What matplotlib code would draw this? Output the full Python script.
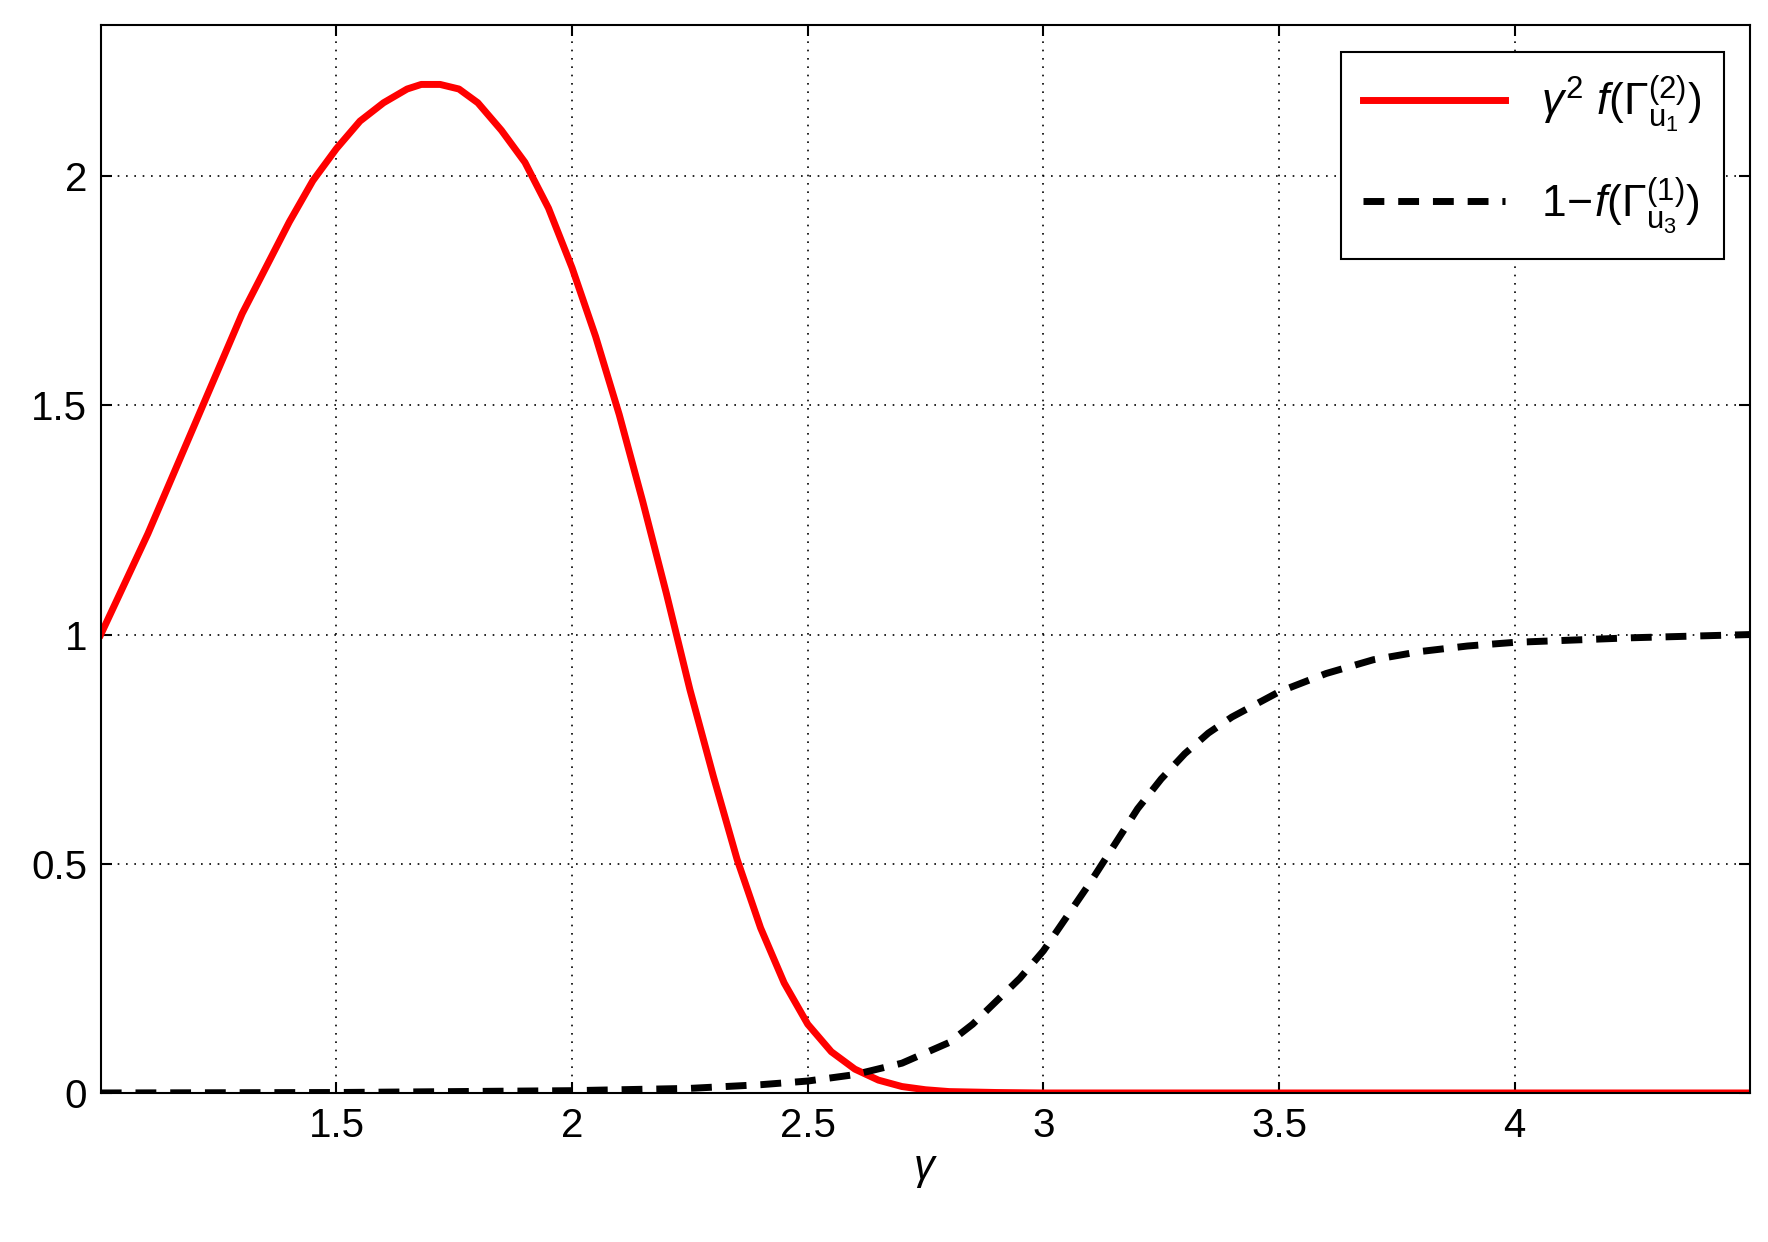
import matplotlib.pyplot as plt

plt.rcParams["font.family"] = ["Liberation Sans", "DejaVu Sans"]
plt.rcParams["mathtext.fontset"] = "custom"
plt.rcParams["mathtext.rm"] = "Liberation Sans"
plt.rcParams["mathtext.it"] = "Liberation Sans:italic"

# values
red_x = [1.0, 1.05, 1.1, 1.15, 1.2, 1.25, 1.3, 1.35, 1.4, 1.45, 1.5, 1.55, 1.6, 1.65,
         1.68, 1.72, 1.76, 1.8, 1.85, 1.9, 1.95, 2.0, 2.05, 2.1, 2.15, 2.2, 2.25,
         2.3, 2.35, 2.4, 2.45, 2.5, 2.55, 2.6, 2.65, 2.7, 2.75, 2.8, 2.9, 3.0, 3.5, 4.0, 4.5]
red_y = [1.0, 1.11, 1.22, 1.34, 1.46, 1.58, 1.7, 1.8, 1.9, 1.99, 2.06, 2.12, 2.16, 2.19,
         2.2, 2.2, 2.19, 2.16, 2.1, 2.03, 1.93, 1.8, 1.65, 1.48, 1.29, 1.09, 0.88,
         0.69, 0.51, 0.36, 0.24, 0.15, 0.09, 0.052, 0.028, 0.014, 0.007, 0.003, 0.001, 0.0, 0.0, 0.0, 0.0]
blk_x = [1.0, 1.5, 2.0, 2.25, 2.4, 2.5, 2.6, 2.7, 2.8, 2.85, 2.9, 2.95, 3.0, 3.05,
         3.1, 3.15, 3.2, 3.25, 3.3, 3.35, 3.4, 3.5, 3.6, 3.7, 3.8, 3.9, 4.0, 4.25, 4.5]
blk_y = [0.0, 0.001, 0.005, 0.01, 0.018, 0.026, 0.04, 0.065, 0.11, 0.15, 0.2, 0.25, 0.31, 0.385,
         0.46, 0.54, 0.62, 0.685, 0.74, 0.785, 0.82, 0.875, 0.915, 0.945, 0.963, 0.975, 0.983, 0.993, 1.0]

fig = plt.figure(figsize=(17.68, 12.42), dpi=100)
ax = fig.add_axes([0.057, 0.12, 0.933, 0.86])
ax.plot(red_x, red_y, color="red", lw=5,
        label=r"$\gamma^2\ f(\Gamma^{(2)}_{\mathrm{u}_1})$")
ax.plot(blk_x, blk_y, color="black", lw=5, ls=(0, (3, 2)),
        label=r"$1\!-\!f(\Gamma^{(1)}_{\mathrm{u}_3})$")
ax.set_xlim(1, 4.5)
ax.set_ylim(0, 2.33)
ax.set_xticks([1.5, 2, 2.5, 3, 3.5, 4])
ax.set_xticklabels(["1.5", "2", "2.5", "3", "3.5", "4"])
ax.set_yticks([0, 0.5, 1, 1.5, 2])
ax.set_yticklabels(["0", "0.5", "1", "1.5", "2"])
ax.tick_params(labelsize=29, direction="in", length=8, width=1.5, top=True, right=True, pad=10)
ax.grid(True, color="black", ls=(0, (1, 4)), lw=1.2)
for s in ax.spines.values():
    s.set_linewidth(1.5)
ax.set_xlabel(r"$\gamma$", fontsize=30)
leg = ax.legend(loc="upper right", fontsize=32, fancybox=False, framealpha=1,
                edgecolor="black", handlelength=3.2, borderpad=0.5, labelspacing=0.9,
                borderaxespad=0.6)
leg.get_frame().set_linewidth(1.5)
fig.savefig("out.png")
